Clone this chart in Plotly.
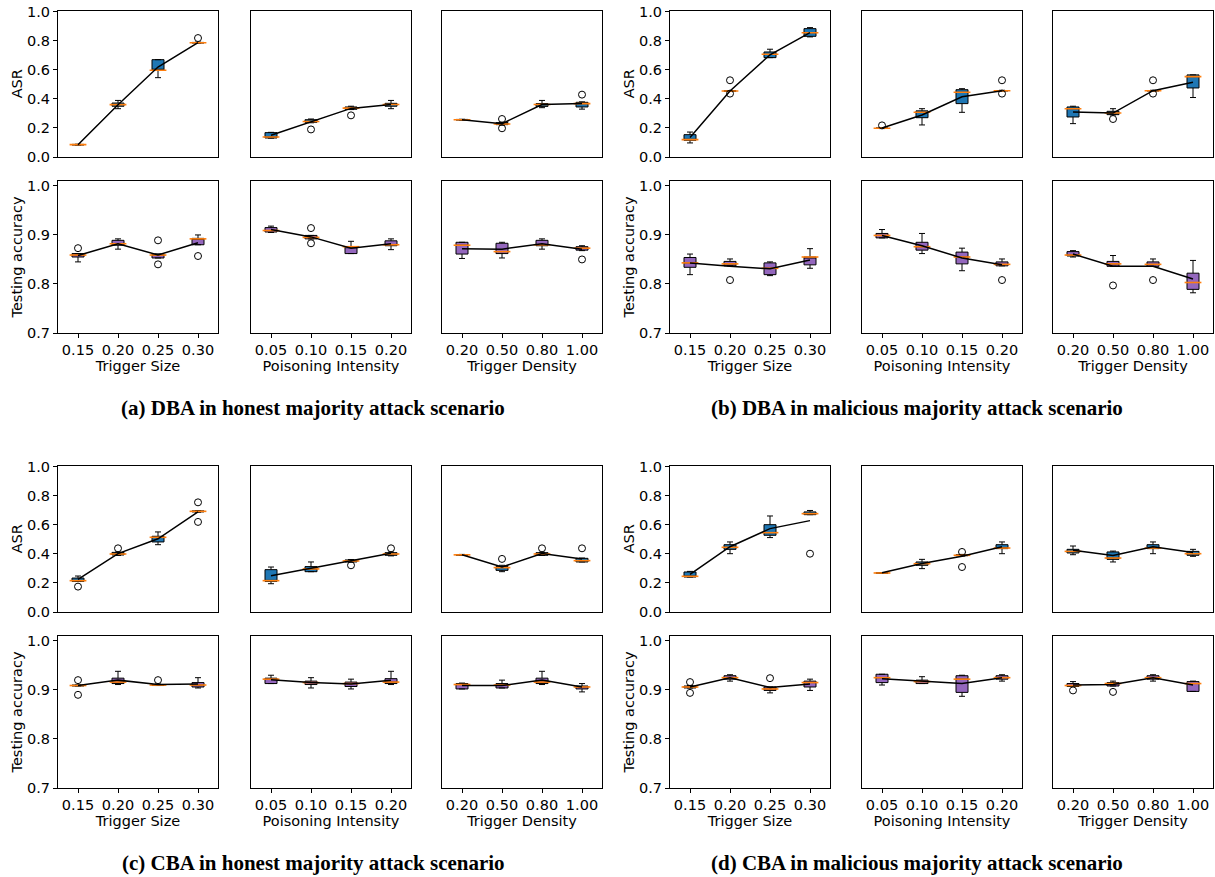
import plotly.graph_objects as go

# ---------------- tick labels / titles ----------------
size_labels = ['0.15', '0.20', '0.25', '0.30']
intensity_labels = ['0.05', '0.10', '0.15', '0.20']
density_labels = ['0.20', '0.50', '0.80', '1.00']
col_labels = [size_labels, intensity_labels, density_labels]
x_titles = ['Trigger Size', 'Poisoning Intensity', 'Trigger Density']
y_titles = ['ASR', 'Testing accuracy']
captions = ['(a) DBA in honest majority attack scenario',
            '(b) DBA in malicious majority attack scenario',
            '(c) CBA in honest majority attack scenario',
            '(d) CBA in malicious majority attack scenario']

# ---------------- data: each list = [size column, intensity column, density column] ----------------
# (a) DBA honest majority
a_asr_lo = [[0.082, 0.333, 0.547, 0.785], [0.130, 0.236, 0.327, 0.333], [0.254, 0.220, 0.340, 0.330]]
a_asr_q1 = [[0.083, 0.350, 0.598, 0.786], [0.131, 0.239, 0.329, 0.350], [0.255, 0.223, 0.349, 0.345]]
a_asr_med = [[0.085, 0.361, 0.598, 0.788], [0.138, 0.245, 0.337, 0.362], [0.257, 0.228, 0.362, 0.368]]
a_asr_q3 = [[0.087, 0.372, 0.671, 0.790], [0.168, 0.257, 0.345, 0.370], [0.259, 0.237, 0.368, 0.377]]
a_asr_hi = [[0.088, 0.390, 0.671, 0.792], [0.170, 0.262, 0.350, 0.390], [0.260, 0.240, 0.390, 0.380]]
a_asr_mean = [[0.085, 0.360, 0.620, 0.788], [0.150, 0.245, 0.335, 0.362], [0.257, 0.230, 0.362, 0.368]]
a_asr_out = [(0, 3, 0.820), (1, 1, 0.190), (1, 2, 0.287), (2, 1, 0.262), (2, 1, 0.198), (2, 3, 0.430)]

a_ta_lo = [[0.845, 0.871, 0.853, 0.880], [0.905, 0.892, 0.862, 0.870], [0.852, 0.853, 0.871, 0.868]]
a_ta_q1 = [[0.855, 0.879, 0.853, 0.880], [0.906, 0.892, 0.862, 0.878], [0.861, 0.862, 0.878, 0.869]]
a_ta_med = [[0.859, 0.882, 0.859, 0.892], [0.909, 0.895, 0.876, 0.880], [0.879, 0.866, 0.880, 0.873]]
a_ta_q3 = [[0.862, 0.889, 0.861, 0.893], [0.915, 0.899, 0.876, 0.888], [0.885, 0.883, 0.889, 0.876]]
a_ta_hi = [[0.862, 0.892, 0.861, 0.900], [0.918, 0.899, 0.887, 0.892], [0.885, 0.885, 0.892, 0.878]]
a_ta_mean = [[0.858, 0.882, 0.859, 0.884], [0.911, 0.896, 0.873, 0.882], [0.872, 0.871, 0.882, 0.871]]
a_ta_out = [(0, 0, 0.873), (0, 2, 0.889), (0, 2, 0.840), (0, 3, 0.857), (1, 1, 0.914), (1, 1, 0.883), (2, 3, 0.850)]

# (b) DBA malicious majority
b_asr_lo = [[0.097, 0.452, 0.685, 0.828], [0.196, 0.221, 0.308, 0.455], [0.230, 0.290, 0.455, 0.410]]
b_asr_q1 = [[0.115, 0.453, 0.685, 0.832], [0.197, 0.271, 0.368, 0.456], [0.276, 0.292, 0.456, 0.476]]
b_asr_med = [[0.120, 0.455, 0.708, 0.857], [0.198, 0.308, 0.446, 0.457], [0.333, 0.303, 0.457, 0.554]]
b_asr_q3 = [[0.154, 0.457, 0.724, 0.885], [0.200, 0.318, 0.464, 0.458], [0.345, 0.315, 0.458, 0.566]]
b_asr_hi = [[0.172, 0.458, 0.743, 0.892], [0.202, 0.333, 0.471, 0.460], [0.350, 0.333, 0.460, 0.566]]
b_asr_mean = [[0.135, 0.455, 0.705, 0.857], [0.200, 0.290, 0.415, 0.457], [0.310, 0.303, 0.457, 0.515]]
b_asr_out = [(0, 1, 0.529), (0, 1, 0.437), (1, 0, 0.218), (1, 3, 0.529), (1, 3, 0.437),
             (2, 1, 0.262), (2, 2, 0.529), (2, 2, 0.437)]

b_ta_lo = [[0.819, 0.837, 0.817, 0.832], [0.894, 0.862, 0.827, 0.837], [0.855, 0.836, 0.836, 0.782]]
b_ta_q1 = [[0.834, 0.837, 0.819, 0.839], [0.894, 0.869, 0.841, 0.837], [0.857, 0.836, 0.836, 0.789]]
b_ta_med = [[0.843, 0.841, 0.832, 0.855], [0.899, 0.876, 0.855, 0.840], [0.859, 0.841, 0.840, 0.803]]
b_ta_q3 = [[0.854, 0.846, 0.843, 0.855], [0.903, 0.885, 0.865, 0.845], [0.866, 0.846, 0.845, 0.822]]
b_ta_hi = [[0.861, 0.851, 0.845, 0.872], [0.911, 0.903, 0.873, 0.851], [0.868, 0.858, 0.851, 0.848]]
b_ta_mean = [[0.843, 0.836, 0.831, 0.849], [0.899, 0.878, 0.853, 0.839], [0.861, 0.836, 0.836, 0.810]]
b_ta_out = [(0, 1, 0.808), (1, 3, 0.808), (2, 1, 0.797), (2, 2, 0.808)]

# (c) CBA honest majority
c_asr_lo = [[0.211, 0.390, 0.464, 0.688], [0.195, 0.278, 0.344, 0.387], [0.391, 0.278, 0.390, 0.345]]
c_asr_q1 = [[0.211, 0.393, 0.483, 0.690], [0.211, 0.278, 0.345, 0.391], [0.392, 0.287, 0.391, 0.345]]
c_asr_med = [[0.216, 0.400, 0.515, 0.694], [0.216, 0.297, 0.352, 0.400], [0.394, 0.306, 0.400, 0.354]]
c_asr_q3 = [[0.234, 0.411, 0.522, 0.697], [0.292, 0.313, 0.359, 0.409], [0.396, 0.313, 0.409, 0.370]]
c_asr_hi = [[0.248, 0.413, 0.552, 0.698], [0.310, 0.345, 0.362, 0.413], [0.397, 0.322, 0.412, 0.372]]
c_asr_mean = [[0.225, 0.403, 0.505, 0.690], [0.250, 0.300, 0.352, 0.405], [0.395, 0.310, 0.403, 0.365]]
c_asr_out = [(0, 0, 0.175), (0, 1, 0.439), (0, 3, 0.756), (0, 3, 0.621), (1, 2, 0.322), (1, 3, 0.439),
             (2, 1, 0.366), (2, 2, 0.439), (2, 3, 0.439)]

c_ta_lo = [[0.908, 0.911, 0.909, 0.904], [0.913, 0.904, 0.902, 0.911], [0.902, 0.904, 0.911, 0.896]]
c_ta_q1 = [[0.908, 0.913, 0.909, 0.906], [0.913, 0.911, 0.907, 0.913], [0.902, 0.904, 0.913, 0.902]]
c_ta_med = [[0.909, 0.916, 0.910, 0.910], [0.922, 0.915, 0.913, 0.916], [0.911, 0.910, 0.916, 0.906]]
c_ta_q3 = [[0.910, 0.924, 0.911, 0.915], [0.924, 0.918, 0.916, 0.923], [0.913, 0.913, 0.924, 0.908]]
c_ta_hi = [[0.910, 0.938, 0.912, 0.925], [0.930, 0.925, 0.922, 0.938], [0.914, 0.920, 0.938, 0.913]]
c_ta_mean = [[0.909, 0.920, 0.911, 0.912], [0.921, 0.915, 0.912, 0.920], [0.909, 0.909, 0.920, 0.906]]
c_ta_out = [(0, 0, 0.920), (0, 0, 0.890), (0, 2, 0.920)]

# (d) CBA malicious majority
d_asr_lo = [[0.241, 0.402, 0.513, 0.671], [0.266, 0.299, 0.386, 0.402], [0.395, 0.345, 0.402, 0.384]]
d_asr_q1 = [[0.241, 0.432, 0.529, 0.671], [0.267, 0.322, 0.388, 0.437], [0.407, 0.363, 0.437, 0.391]]
d_asr_med = [[0.246, 0.446, 0.547, 0.678], [0.269, 0.333, 0.391, 0.441], [0.418, 0.372, 0.441, 0.402]]
d_asr_q3 = [[0.276, 0.464, 0.602, 0.690], [0.271, 0.345, 0.395, 0.464], [0.432, 0.414, 0.464, 0.418]]
d_asr_hi = [[0.280, 0.483, 0.662, 0.700], [0.272, 0.363, 0.397, 0.483], [0.455, 0.420, 0.483, 0.432]]
d_asr_mean = [[0.260, 0.450, 0.575, 0.630], [0.270, 0.335, 0.385, 0.450], [0.425, 0.390, 0.450, 0.410]]
d_asr_out = [(0, 3, 0.402), (1, 2, 0.414), (1, 2, 0.310)]

d_ta_lo = [[0.904, 0.918, 0.894, 0.899], [0.910, 0.913, 0.887, 0.918], [0.907, 0.908, 0.918, 0.897]]
d_ta_q1 = [[0.904, 0.922, 0.899, 0.906], [0.915, 0.913, 0.895, 0.922], [0.907, 0.908, 0.922, 0.897]]
d_ta_med = [[0.906, 0.925, 0.902, 0.915], [0.925, 0.917, 0.922, 0.925], [0.909, 0.913, 0.925, 0.913]]
d_ta_q3 = [[0.908, 0.929, 0.906, 0.918], [0.932, 0.920, 0.929, 0.929], [0.913, 0.915, 0.929, 0.917]]
d_ta_hi = [[0.909, 0.931, 0.906, 0.922], [0.932, 0.927, 0.930, 0.931], [0.917, 0.918, 0.931, 0.918]]
d_ta_mean = [[0.906, 0.925, 0.905, 0.912], [0.923, 0.918, 0.913, 0.925], [0.910, 0.911, 0.925, 0.910]]
d_ta_out = [(0, 0, 0.916), (0, 0, 0.894), (0, 2, 0.924), (2, 0, 0.899), (2, 1, 0.896)]

# ---------------- layout geometry (pixels) ----------------
W, H = 1215, 877
LEFT_COLS = [(58, 218), (251, 411), (442, 602)]
RIGHT_COLS = [(670, 830), (862, 1022), (1053, 1213)]
ROWS = [(10.5, 157), (181, 333)]  # ASR row, accuracy row (top half)
HALF_OFFSET = 455
CAPTION_Y = 408
CAPTION_X = [313, 917, 313, 917]
Y_RANGES = [[0.0, 1.01], [0.7, 1.01]]
Y_TICKS = [[0.0, 0.2, 0.4, 0.6, 0.8, 1.0], [0.7, 0.8, 0.9, 1.0]]
BOX_COLORS = ['#1f77b4', '#9467bd']
MEDIAN_COLOR = '#ff7f0e'

panels = [
    (LEFT_COLS, 0, [(a_asr_lo, a_asr_q1, a_asr_med, a_asr_q3, a_asr_hi, a_asr_mean, a_asr_out),
                    (a_ta_lo, a_ta_q1, a_ta_med, a_ta_q3, a_ta_hi, a_ta_mean, a_ta_out)]),
    (RIGHT_COLS, 0, [(b_asr_lo, b_asr_q1, b_asr_med, b_asr_q3, b_asr_hi, b_asr_mean, b_asr_out),
                     (b_ta_lo, b_ta_q1, b_ta_med, b_ta_q3, b_ta_hi, b_ta_mean, b_ta_out)]),
    (LEFT_COLS, HALF_OFFSET, [(c_asr_lo, c_asr_q1, c_asr_med, c_asr_q3, c_asr_hi, c_asr_mean, c_asr_out),
                              (c_ta_lo, c_ta_q1, c_ta_med, c_ta_q3, c_ta_hi, c_ta_mean, c_ta_out)]),
    (RIGHT_COLS, HALF_OFFSET, [(d_asr_lo, d_asr_q1, d_asr_med, d_asr_q3, d_asr_hi, d_asr_mean, d_asr_out),
                               (d_ta_lo, d_ta_q1, d_ta_med, d_ta_q3, d_ta_hi, d_ta_mean, d_ta_out)]),
]

TICK_FONT = dict(family='DejaVu Sans', size=14.5, color='black')

fig = go.Figure()
layout_axes = {}
k = 0
for p_idx, (cols, yoff, metrics) in enumerate(panels):
    for m, (lo, q1, med, q3, hi, mean, outs) in enumerate(metrics):
        for c in range(3):
            k += 1
            xa = 'x' if k == 1 else f'x{k}'
            ya = 'y' if k == 1 else f'y{k}'
            labels = col_labels[c]
            pos = [i + 1 for i in range(len(labels))]
            fig.add_trace(go.Box(
                x=pos, q1=q1[c], median=med[c], q3=q3[c],
                lowerfence=lo[c], upperfence=hi[c],
                width=0.3, whiskerwidth=0.5, boxpoints=False,
                fillcolor=BOX_COLORS[m], line=dict(color='black', width=1),
                xaxis=xa, yaxis=ya, showlegend=False, hoverinfo='skip'))
            fig.add_trace(go.Scatter(
                x=pos, y=med[c], mode='markers',
                marker=dict(symbol='line-ew', size=12,
                            line=dict(color=MEDIAN_COLOR, width=1.6)),
                xaxis=xa, yaxis=ya, showlegend=False, hoverinfo='skip'))
            fig.add_trace(go.Scatter(
                x=pos, y=mean[c], mode='lines',
                line=dict(color='black', width=1.5),
                xaxis=xa, yaxis=ya, showlegend=False, hoverinfo='skip'))
            ox = [pos[i] for (cc, i, v) in outs if cc == c]
            oy = [v for (cc, i, v) in outs if cc == c]
            if ox:
                fig.add_trace(go.Scatter(
                    x=ox, y=oy, mode='markers',
                    marker=dict(symbol='circle-open', size=7, color='black',
                                line=dict(width=1)),
                    xaxis=xa, yaxis=ya, showlegend=False, hoverinfo='skip'))

            x0, x1 = cols[c]
            yt, yb = ROWS[m]
            yt += yoff
            yb += yoff
            xkey = 'xaxis' if k == 1 else f'xaxis{k}'
            ykey = 'yaxis' if k == 1 else f'yaxis{k}'
            show_x = (m == 1)
            layout_axes[xkey] = dict(
                domain=[x0 / W, x1 / W], anchor=ya, range=[0.5, 4.5],
                tickmode='array', tickvals=pos, ticktext=labels,
                showticklabels=show_x, ticks='outside' if show_x else '',
                ticklen=4, tickwidth=1, tickcolor='black', tickfont=TICK_FONT,
                showline=True, mirror=True, linecolor='black', linewidth=1,
                showgrid=False, zeroline=False, fixedrange=True,
                title=dict(text=x_titles[c] if show_x else '', font=TICK_FONT, standoff=1),
            )
            show_y = (c == 0)
            layout_axes[ykey] = dict(
                domain=[1 - yb / H, 1 - yt / H], anchor=xa, range=Y_RANGES[m],
                tickmode='array', tickvals=Y_TICKS[m], tickformat='.1f',
                showticklabels=show_y, ticks='outside' if show_y else '',
                ticklen=4, tickwidth=1, tickcolor='black', tickfont=TICK_FONT,
                showline=True, mirror=True, linecolor='black', linewidth=1,
                showgrid=False, zeroline=False, fixedrange=True,
                title=dict(text=y_titles[m] if show_y else '', font=TICK_FONT, standoff=0),
            )

annotations = []
for p_idx, (cols, yoff, metrics) in enumerate(panels):
    annotations.append(dict(
        text='<b>' + captions[p_idx] + '</b>', xref='paper', yref='paper',
        x=CAPTION_X[p_idx] / W, y=1 - (CAPTION_Y + yoff) / H, xanchor='center', yanchor='middle',
        showarrow=False, font=dict(family='Liberation Serif', size=21, color='black')))

fig.update_layout(
    width=W, height=H, margin=dict(l=0, r=0, t=0, b=0),
    paper_bgcolor='white', plot_bgcolor='white',
    template='none', showlegend=False, boxmode='overlay',
    font=dict(family='DejaVu Sans', size=14.5, color='black'),
    annotations=annotations, **layout_axes)

fig.write_html('out.html')
